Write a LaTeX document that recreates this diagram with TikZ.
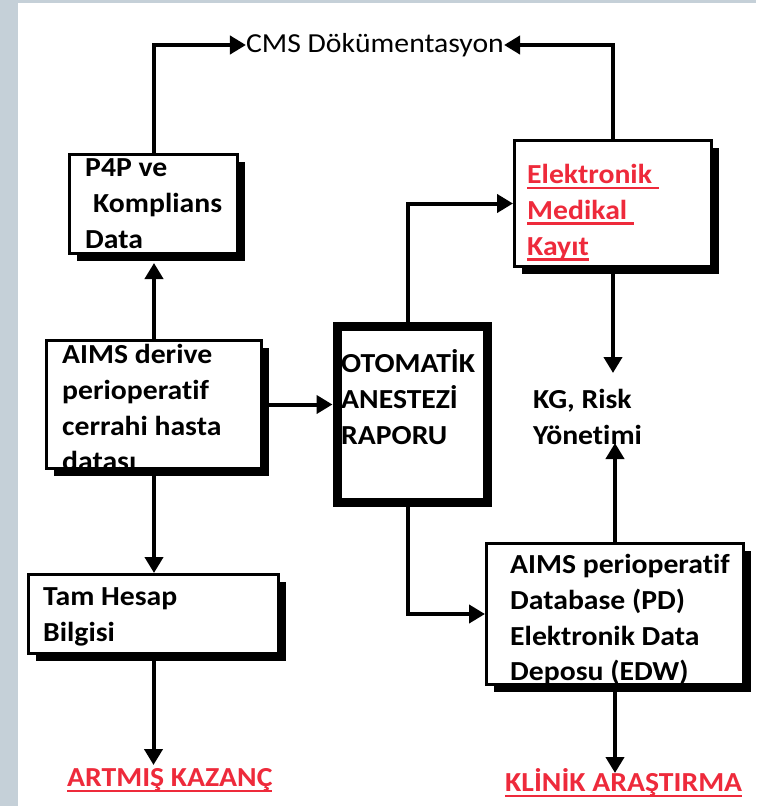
\documentclass[tikz,border=0pt]{standalone}
\usepackage{fontspec}
\setmainfont{Carlito}[FakeStretch=1.08, Ligatures=NoCommon]
\usetikzlibrary{arrows.meta,shadows,calc}
\definecolor{framegray}{HTML}{C5D0D8}
\definecolor{accentred}{HTML}{EE2A3B}
% underline drawn as a rule just below the baseline
\newcommand\redul[1]{\setbox0\hbox{#1}\rlap{\rule[-5.5pt]{\wd0}{2.5pt}}\box0}
\begin{document}
\begin{tikzpicture}[x=1pt,y=-1pt,
  txt/.style={font=\fontsize{27.5}{35.7}\selectfont\bfseries, inner sep=0pt,
    anchor=north west, align=left, text=black},
  plain/.style={font=\fontsize{27.5}{35.7}\selectfont, inner sep=0pt},
  redtxt/.style={txt, text=accentred},
  box/.style={rectangle, draw=black, line width=3pt, fill=white, inner sep=0pt,
    anchor=north west,
    drop shadow={shadow xshift=7pt, shadow yshift=-7pt, fill=black, opacity=1}},
  thickbox/.style={rectangle, draw=black, line width=9pt, fill=white, inner sep=0pt,
    anchor=north west},
  arr/.style={line width=4pt, -{Triangle[length=16pt,width=18pt]}},
]
% page background with grey frame strip
\fill[framegray] (0,0) rectangle (756,806);
\fill[white] (18,3) rectangle (756,806);
\useasboundingbox (0,0) rectangle (756,806);

% boxes
\node[box, minimum width=168pt, minimum height=99pt] (p4p) at (68,153) {};
\node[box, minimum width=197pt, minimum height=126pt] (ekr) at (513,139) {};
\node[box, minimum width=215pt, minimum height=128pt] (aims) at (45,339) {};
\node[box, minimum width=250pt, minimum height=79pt] (tam) at (27,573) {};
\node[box, minimum width=257pt, minimum height=141pt] (pd) at (485,542) {};
\node[thickbox, minimum width=150pt, minimum height=176pt] (oto) at (332.5,321.5) {};

% box texts, cut off at the inner edge of each frame
\begin{scope}
  \clip ([shift={(1.5,1.5)}]p4p.north west) rectangle ([shift={(-1.5,-1.5)}]p4p.south east);
  \node[txt] (p4ptext) at (85,151.5) {\strut P4P ve\\\hspace*{8pt}Komplians\\Data};
\end{scope}
\begin{scope}
  \clip ([shift={(1.5,1.5)}]ekr.north west) rectangle ([shift={(-1.5,-1.5)}]ekr.south east);
  \node[redtxt] (ekrtext) at (527,158.5) {\strut\redul{Elektronik\ }\\\redul{Medikal\ }\\\redul{Kayıt}};
\end{scope}
\begin{scope}
  \clip ([shift={(1.5,1.5)}]aims.north west) rectangle ([shift={(-1.5,-1.5)}]aims.south east);
  \node[txt] (aimstext) at (62,338.5) {\strut AIMS derive\\perioperatif\\cerrahi hasta\\datası};
\end{scope}
\begin{scope}
  \clip ([shift={(1.5,1.5)}]tam.north west) rectangle ([shift={(-1.5,-1.5)}]tam.south east);
  \node[txt] (tamtext) at (43,580.5) {\strut Tam Hesap\\Bilgisi};
\end{scope}
\begin{scope}
  \clip ([shift={(1.5,1.5)}]pd.north west) rectangle ([shift={(-1.5,-1.5)}]pd.south east);
  \node[txt] (pdtext) at (510,548.5) {\strut AIMS perioperatif\\Database (PD)\\Elektronik Data\\Deposu (EDW)};
\end{scope}
\begin{scope}
  \clip ([shift={(9,9)}]oto.north west) rectangle ([shift={(-9,-9)}]oto.south east);
  \node[txt] (ototext) at (341,347.5) {\strut OTOMATİK\\ANESTEZİ\\RAPORU};
\end{scope}

% free labels
\node[plain] (cms) at (375,45) {CMS Dökümentasyon};
\node[txt] (kg) at (533,383.5) {\strut KG, Risk\\Yönetimi};
\node[redtxt] (artmis) at (67,761.5) {\strut\redul{ARTMIŞ KAZANÇ}};
\node[redtxt] (klinik) at (505,766.5) {\strut\redul{KLİNİK ARAŞTIRMA}};

% arrow end points at the free labels
\coordinate (p4pin) at ([yshift=-8pt]p4p.south);
\coordinate (kgin) at (613,373);
\coordinate (kgup) at (613,443);
\coordinate (artmisin) at (152,765);
\coordinate (klinikin) at (613,773);

% connectors
\draw[arr] (p4p.north) |- (cms.west);
\draw[arr] (ekr.north) |- (cms.east);
\draw[arr] (aims.north) -- (aims.north |- p4pin);
\draw[arr] (aims.south) -- (aims.south |- tam.north);
\draw[arr] (aims.east) -- (aims.east -| oto.west);
\draw[arr] ([xshift=-4.5pt]oto.north) |- (ekr.west);
\draw[arr] ([xshift=-4.5pt]oto.south) |- (pd.west);
\draw[arr] (ekr.south) -- (ekr.south |- kgin);
\draw[arr] (pd.north) -- (pd.north |- kgup);
\draw[arr] (pd.south) -- (pd.south |- klinikin);
\draw[arr] (tam.south) -- (tam.south |- artmisin);
\end{tikzpicture}
\end{document}
